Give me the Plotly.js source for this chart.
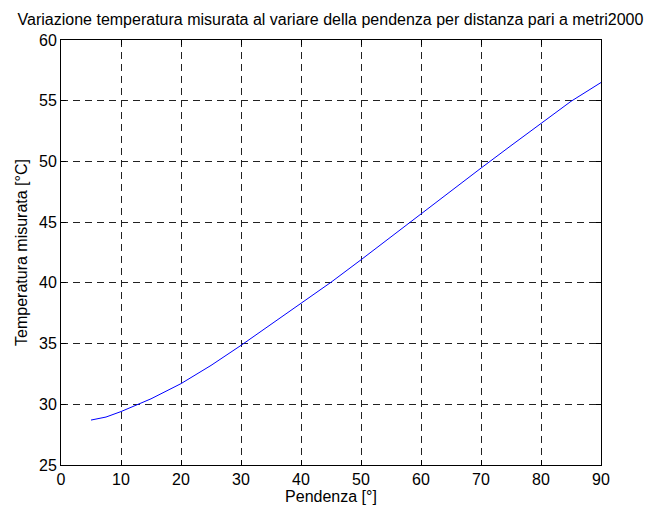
<!DOCTYPE html>
<html>
<head>
<meta charset="utf-8">
<script src="https://cdn.plot.ly/plotly-3.0.1.min.js"></script>
<style>html,body{margin:0;padding:0;background:#fff;}#chart{width:646px;height:509px;}</style>
</head>
<body>
<div id="chart"></div>
<script>
var pendenza = [5, 7.5, 10, 15, 20, 25, 30, 35, 40, 45, 50, 55, 60, 65, 70, 75, 80, 85, 90];
var temperatura = [28.7, 28.95, 29.4, 30.45, 31.7, 33.2, 34.85, 36.6, 38.3, 40.05, 41.9, 43.8, 45.7, 47.6, 49.45, 51.3, 53.1, 54.95, 56.5];
var titolo = 'Variazione temperatura misurata al variare della pendenza per distanza pari a metri2000';
var xTitolo = 'Pendenza [°]';
var yTitolo = 'Temperatura misurata [°C]';

var fontFam = 'Liberation Sans, Arial, sans-serif';
var trace = {x: pendenza, y: temperatura, type: 'scatter', mode: 'lines',
  line: {color: '#0000ff', width: 1}, hoverinfo: 'skip'};
var axisCommon = {
  showline: true, linecolor: '#000', linewidth: 1, mirror: 'ticks',
  ticks: 'inside', ticklen: 5, tickcolor: '#000', tickwidth: 1,
  showgrid: true, gridcolor: '#222', griddash: '7px,5px', gridwidth: 1,
  zeroline: false, tickfont: {family: fontFam, size: 16, color: '#000'}
};
var layout = {
  width: 646, height: 509,
  margin: {l: 61, r: 45, t: 40, b: 44},
  paper_bgcolor: '#fff', plot_bgcolor: '#fff',
  showlegend: false,
  title: {text: titolo, font: {family: fontFam, size: 16, color: '#000'},
    x: 330.5/646, xanchor: 'center', xref: 'container', y: 1 - 19/509, yref: 'container', yanchor: 'middle'},
  xaxis: Object.assign({}, axisCommon, {range: [0, 90], tickvals: [0,10,20,30,40,50,60,70,80,90],
    title: {text: xTitolo, font: {family: fontFam, size: 16, color: '#000'}, standoff: 2}}),
  yaxis: Object.assign({}, axisCommon, {range: [25, 60], tickvals: [25,30,35,40,45,50,55,60],
    title: {text: yTitolo, font: {family: fontFam, size: 16, color: '#000'}, standoff: 7}})
};
Plotly.newPlot('chart', [trace], layout, {displayModeBar: false, staticPlot: true});
</script>
</body>
</html>
